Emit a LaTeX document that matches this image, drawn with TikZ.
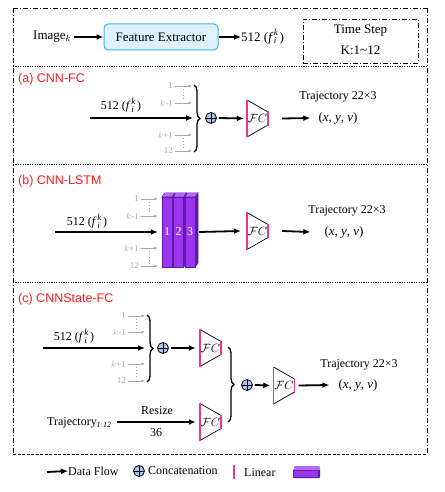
\documentclass[tikz,border=0pt]{standalone}
\usepackage{fontspec}
\setmainfont{Liberation Serif}
\newfontfamily\titlefont{Liberation Sans}
\usetikzlibrary{arrows.meta,decorations.pathreplacing,calc}
\definecolor{linpink}{HTML}{F0348E}
\definecolor{feblue}{HTML}{DDF2FD}
\definecolor{feborder}{HTML}{3DB4EA}
\definecolor{catblue}{HTML}{A9C6E6}
\definecolor{purp}{HTML}{9A35EE}
\definecolor{purptop}{HTML}{B46BFA}
\definecolor{purpdark}{HTML}{5E1BA6}
\definecolor{titlered}{HTML}{FF1A1A}
\definecolor{glab}{HTML}{A8A8A8}
\newcommand{\featlab}{512 (\textit{f}\kern0.6pt\makebox[0pt][l]{\raisebox{5.5pt}{\fontsize{9}{9}\selectfont\textit{k}}}\raisebox{-2.5pt}{\fontsize{9}{9}\selectfont\textit{i}}\kern3.2pt)}
\newcommand{\xyvlab}{(\textit{x}, \textit{y}, \textit{v})}
\begin{document}
\begin{tikzpicture}[x=1pt,y=-1pt,
  txt/.style={inner sep=0pt, font=\fontsize{12}{14}\selectfont},
  mtxt/.style={inner sep=0pt, font=\fontsize{13}{15}\selectfont},
  toptxt/.style={inner sep=0pt, font=\fontsize{13}{15}\selectfont},
  title/.style={inner sep=0pt, anchor=west, text=titlered, font=\titlefont\fontsize{12.5}{14}\selectfont},
  glabel/.style={inner sep=0pt, anchor=east, text=glab, font=\fontsize{9}{10}\selectfont},
  flow/.style={line width=1.8pt, -{Latex[length=7pt,width=6pt]}},
  garr/.style={glab, line width=0.7pt, -{Latex[length=3.5pt,width=3pt]}},
  gdots/.style={glab, line width=0.9pt, dotted},
  bracest/.style={decorate, decoration={brace, amplitude=6pt}, line width=1.3pt},
  concat/.style={circle, draw, fill=catblue, minimum size=11pt, inner sep=0pt, line width=0.8pt,
     path picture={\draw[line width=0.8pt] (path picture bounding box.north) -- (path picture bounding box.south)
       (path picture bounding box.west) -- (path picture bounding box.east);}},
  febox/.style={draw=feborder, fill=feblue, rounded corners=4pt, line width=1pt, minimum width=114pt, minimum height=26pt, inner sep=0pt, font=\fontsize{13}{15}\selectfont},
  bar/.style={draw=purpdark, fill=purp, line width=0.4pt, minimum width=10pt, minimum height=70pt, inner sep=0pt, text=white, font=\fontsize{12}{14}\selectfont},
  frameside/.style={line width=0.8pt, dash pattern=on 5pt off 2pt on 1pt off 2pt},
  sep/.style={line width=0.9pt, dash pattern=on 1.2pt off 1.2pt},
  fcblock/.pic={
    \node[inner sep=0pt, minimum width=21pt, minimum height=37pt, font=\fontsize{12}{13}\selectfont] (-box) {$\mathcal{F}C$};
    \draw[line width=0.7pt] (-10.5,-18.5) -- (10.5,-6.5) (-10.5,18.5) -- (10.5,6.5);
    \draw[linpink, line width=1.7pt] (-10.5,-18.8) -- (-10.5,18.8);
    \draw[linpink, line width=1.7pt] (10.5,-7) -- (10.5,7);
  }
]
\useasboundingbox (0,0) rectangle (444,492);

% ---- frame ----
\draw[frameside] (13,8) -- (427,8);
\draw[frameside] (13,8) -- (13,454);
\draw[frameside] (427,8) -- (427,454);
\draw[line width=0.8pt, dash pattern=on 3pt off 1.5pt] (13,454) -- (427,454);
\draw[sep] (13,66) -- (427,66);
\draw[sep] (13,164) -- (427,164);
\draw[sep] (13,282) -- (427,282);

% ---- top row ----
\node[toptxt, anchor=west] (img) at (33,37) {Image$_k$};
\node[febox] (fe) at (161,37) {Feature Extractor};
\draw[flow] (img.east) ++(3,0) -- (fe.west);
\node[toptxt, anchor=west] (feat) at (241,37) {\featlab};
\draw[flow] (fe.east) -- (feat.west);
\node[draw, frameside, minimum width=115pt, minimum height=44pt, inner sep=0pt] (ts) at (360.5,41) {};
\node[toptxt] (ts1) at (360.5,31) {Time Step};
\node[toptxt] (ts2) at (360.5,50) {K:1\textasciitilde12};

% ---- (a) CNN-FC ----
\node[title] (ta) at (18,79) {(a) CNN-FC};
\coordinate (a0) at (90,118);
\coordinate (a0e) at (193,118);
\node[txt] (alab) at (121,105) {\featlab};
\draw[flow] (a0) -- (a0e);
\node[glabel] (ag1) at (173,86) {1};
\node[glabel] (ag2) at (173,103) {$k$-1};
\node[glabel] (ag3) at (173,135) {$k$+1};
\node[glabel] (ag4) at (173,151) {12};
\coordinate (ag1e) at (192,86);
\coordinate (ag2e) at (192,103);
\coordinate (ag3e) at (192,135);
\coordinate (ag4e) at (192,151);
\draw[garr] (ag1.east) ++(2,0) -- (ag1e);
\draw[garr] (ag2.east) ++(2,0) -- (ag2e);
\draw[garr] (ag3.east) ++(2,0) -- (ag3e);
\draw[garr] (ag4.east) ++(2,0) -- (ag4e);
\draw[gdots] (183,89) -- (183,100);
\draw[gdots] (183,138) -- (183,148);
\draw[bracest] (194,85) -- (194,152);
\node[concat] (ca) at (211,118) {};
\pic (fca) at (257.5,118.5) {fcblock};
\draw[flow] (ca.east) ++(2,0) -- ($(fca-box.west)+(-3,0)$);
\node[txt] (tra) at (338,97) {Trajectory 22×3};
\node[mtxt] (xya) at (338,118) {\xyvlab};
\draw[flow] ($(fca-box.east)+(14,0)$) -- ($(xya.west)+(-8,0)$);

% ---- (b) CNN-LSTM ----
\node[title] (tb) at (18,181) {(b) CNN-LSTM};
\coordinate (b0) at (55,232);
\node[txt] (blab) at (87,221) {\featlab};
\node[glabel] (bg1) at (139,199) {1};
\node[glabel] (bg2) at (139,216) {$k$-1};
\node[glabel] (bg3) at (139,248) {$k$+1};
\node[glabel] (bg4) at (139,266) {12};
\draw[gdots] (149,202) -- (149,213);
\draw[gdots] (149,251) -- (149,263);
\foreach \i/\x in {1/167,2/178.5,3/190}{
  \node[bar] (b\i) at (\x,232) {\i};
  \fill[purptop, draw=purpdark, line width=0.4pt] (b\i.north west) -- ++(3,-4) -- ++(10,0) -- (b\i.north east) -- cycle;
  \fill[purpdark, draw=purpdark, line width=0.4pt] (b\i.north east) -- ++(3,-4) -- ++(0,70) -- (b\i.south east) -- cycle;
}
\draw[flow] (b0) -- ($(b1.west)+(-4,0)$);
\draw[garr] (bg1.east) ++(2,0) -- ($(b1.west |- bg1.east)+(-4,0)$);
\draw[garr] (bg2.east) ++(2,0) -- ($(b1.west |- bg2.east)+(-4,0)$);
\draw[garr] (bg3.east) ++(2,0) -- ($(b1.west |- bg3.east)+(-4,0)$);
\draw[garr] (bg4.east) ++(2,0) -- ($(b1.west |- bg4.east)+(-4,0)$);
\pic (fcb) at (257.5,231) {fcblock};
\draw[flow] ($(b3.east)+(4,0)$) -- ($(fcb-box.west)+(-6,0)$);
\node[txt] (trb) at (347,211) {Trajectory 22×3};
\node[mtxt] (xyb) at (344,232) {\xyvlab};
\draw[flow] ($(fcb-box.east)+(14,0)$) -- ($(xyb.west)+(-14,0)$);

% ---- (c) CNNState-FC ----
\node[title] (tc) at (18,299) {(c) CNNState-FC};
\coordinate (c0) at (43,348);
\coordinate (c0e) at (145,348);
\node[txt] (clab) at (74,336) {\featlab};
\draw[flow] (c0) -- (c0e);
\node[glabel] (cg1) at (126,316) {1};
\node[glabel] (cg2) at (126,332) {$k$-1};
\node[glabel] (cg3) at (126,364) {$k$+1};
\node[glabel] (cg4) at (126,381) {12};
\coordinate (cg1e) at (145,316);
\coordinate (cg2e) at (145,332);
\coordinate (cg3e) at (145,364);
\coordinate (cg4e) at (145,381);
\draw[garr] (cg1.east) ++(2,0) -- (cg1e);
\draw[garr] (cg2.east) ++(2,0) -- (cg2e);
\draw[garr] (cg3.east) ++(2,0) -- (cg3e);
\draw[garr] (cg4.east) ++(2,0) -- (cg4e);
\draw[gdots] (136,319) -- (136,329);
\draw[gdots] (136,367) -- (136,378);
\draw[bracest] (147,315) -- (147,382);
\node[concat] (cc1) at (163,348) {};
\pic (fc1) at (210.5,348) {fcblock};
\draw[flow] (cc1.east) ++(2,0) -- ($(fc1-box.west)+(-4,0)$);
\pic (fc2) at (210.5,422) {fcblock};
\node[txt, anchor=west] (traj) at (47,423) {Trajectory$_{\mathit{1:12}}$};
\draw[flow] (traj.east) ++(5,-1) -- ($(fc2-box.west)+(-4,0)$);
\node[txt] (rs) at (157,411) {Resize};
\node[txt] (r36) at (156,433) {36};
\draw[bracest] (228,347) -- (228,422);
\node[concat] (cc2) at (247,385) {};
\pic (fc3) at (284,385.5) {fcblock};
\draw[flow] (cc2.east) ++(2,0) -- ($(fc3-box.west)+(-3,0)$);
\node[txt] (trc) at (359,365) {Trajectory 22×3};
\node[mtxt] (xyc) at (358,385) {\xyvlab};
\draw[flow] ($(fc3-box.east)+(4,0)$) -- ($(xyc.west)+(-9,0)$);

% ---- legend ----
\coordinate (l0) at (47,472);
\node[txt, anchor=west] (ldf) at (68,471) {Data Flow};
\draw[flow] (l0) -- (ldf.west);
\node[concat] (lcat) at (139,471) {};
\node[txt, anchor=west] (lcc) at (148,471) {Concatenation};
\draw[linpink, line width=1.7pt] (234,465) -- (234,479);
\node[txt, anchor=west] (llin) at (244,473) {Linear};
\fill[purpdark, rounded corners=1pt] (293,469) rectangle (320,478);
\fill[purptop, rounded corners=1pt] (294,466) rectangle (320,470);
\fill[purp] (294,471) rectangle (318,477);
\end{tikzpicture}
\end{document}
